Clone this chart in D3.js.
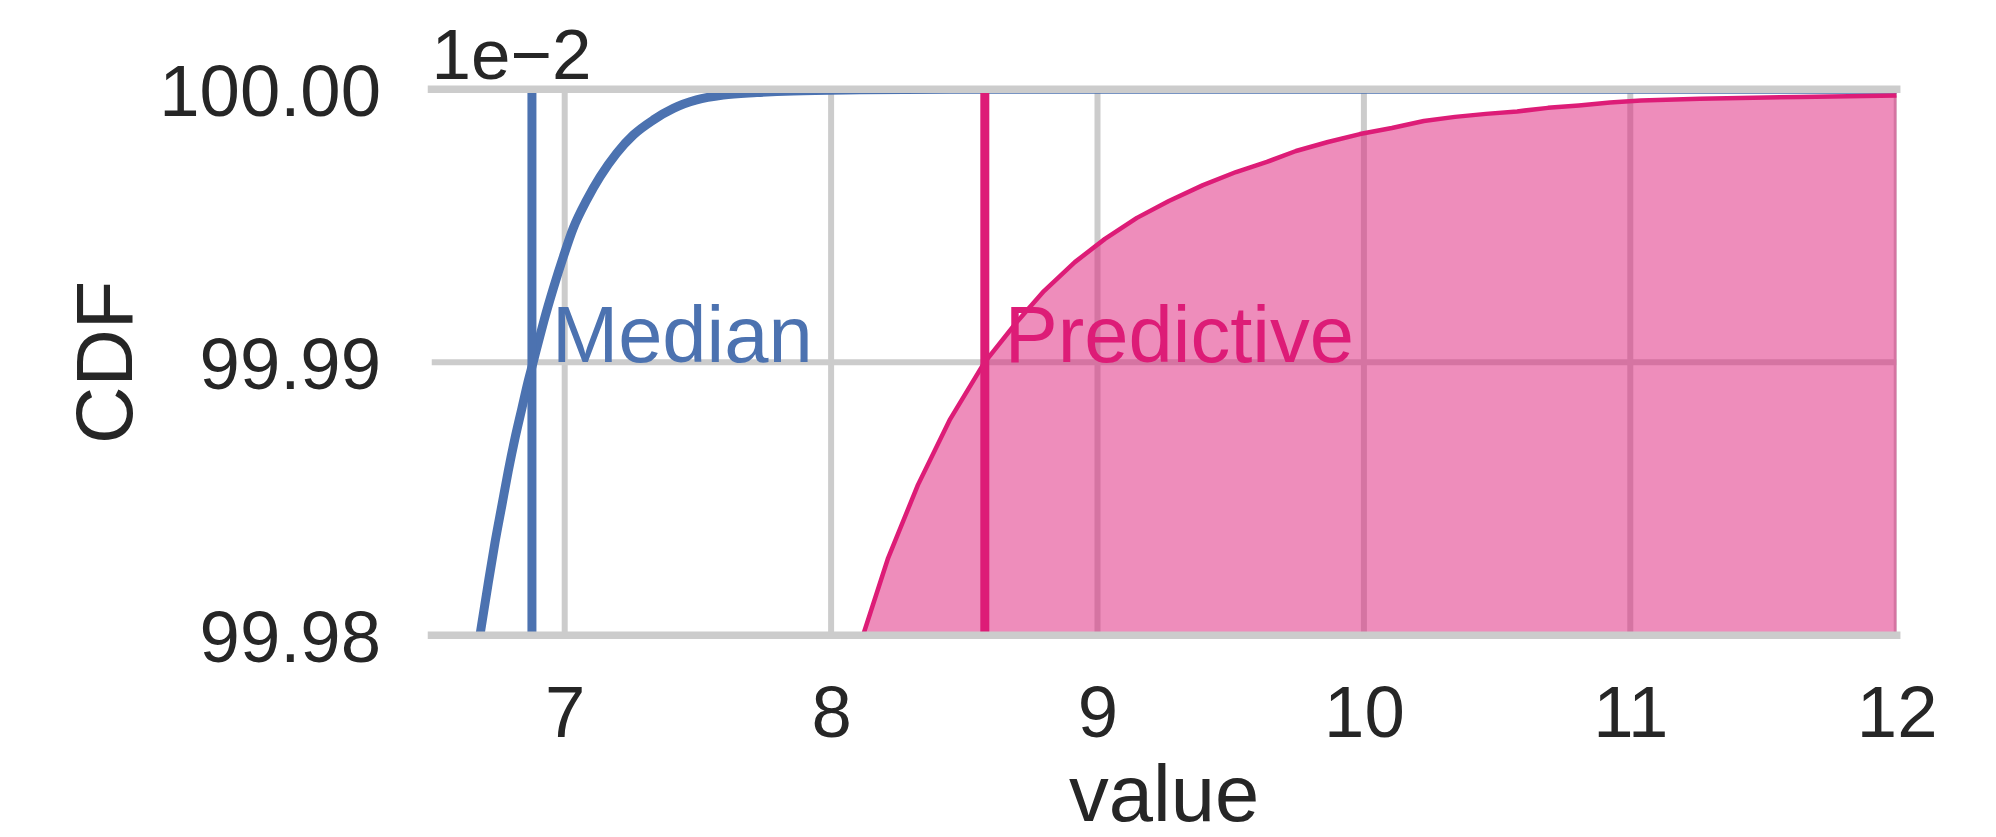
<!DOCTYPE html>
<html>
<head>
<meta charset="utf-8">
<script src="https://cdn.jsdelivr.net/npm/d3@7"></script>
<style>
  html, body { margin: 0; padding: 0; background: #ffffff; }
  svg { display: block; font-family: "Liberation Sans", Arial, Helvetica, sans-serif; }
</style>
</head>
<body>
<div id="chart"></div>
<script>
// Axis ticks and limits
const xTicks = [7, 8, 9, 10, 11, 12];
const yTicks = [0.9998, 0.9999, 1.0];
const xLimits = [6.5, 12];
const yLimits = [0.9998, 1.0];

// Reference markers (vertical lines with labels)
const markerNames = ["Median", "Predictive"];
const markerValues = [6.877, 8.577];

// CDF of the median-based model
const medianX = [6.661, 6.687, 6.713, 6.738, 6.764, 6.788, 6.813, 6.839, 6.863, 6.882,
                 6.901, 6.922, 6.957, 6.995, 7.032, 7.083, 7.133, 7.195, 7.258, 7.333,
                 7.408, 7.495, 7.595, 7.721, 7.858, 8.108, 8.446, 9.76, 12.0];
const medianCdf = [0.9997867, 0.9998032, 0.9998191, 0.9998338, 0.9998475, 0.9998601, 0.9998720,
                   0.9998830, 0.9998931, 0.9999002, 0.9999074, 0.9999152, 0.9999270, 0.9999387,
                   0.9999491, 0.9999595, 0.9999680, 0.9999766, 0.9999833, 0.9999888, 0.9999930,
                   0.9999961, 0.9999979, 0.9999988, 0.9999994, 0.9999998, 1.0, 1.0, 1.0];

// CDF of the predictive distribution
const predictiveX = [8.071, 8.120, 8.214, 8.326, 8.447, 8.574, 8.694, 8.799, 8.915, 9.028,
                     9.148, 9.268, 9.396, 9.520, 9.636, 9.745, 9.865, 9.985, 10.105, 10.225,
                     10.342, 10.458, 10.575, 10.691, 10.807, 10.924, 11.040, 11.262, 11.637, 12.0];
const predictiveCdf = [0.9997858, 0.9998000, 0.9998283, 0.9998551, 0.9998792, 0.9998997, 0.9999144,
                       0.9999261, 0.9999367, 0.9999452, 0.9999529, 0.9999591, 0.9999649, 0.9999697,
                       0.9999734, 0.9999774, 0.9999807, 0.9999836, 0.9999858, 0.9999884, 0.9999899,
                       0.9999910, 0.9999919, 0.9999932, 0.9999941, 0.9999952, 0.9999959, 0.9999965,
                       0.9999972, 0.9999977];

const W = 1996, H = 837;
const margin = { left: 431.5, right: 99.3, top: 89.3, bottom: 201.7 };
const plotW = W - margin.left - margin.right;
const plotH = H - margin.top - margin.bottom;

const textColor = "#262626";
const gridColor = "#cccccc";
const blue = "#4c72b0";
const pink = "#dd1c77";
const tickFont = 72.5;
const labelFont = 79.5;

const svg = d3.select("#chart").append("svg")
  .attr("width", W).attr("height", H)
  .attr("viewBox", `0 0 ${W} ${H}`);

const x = d3.scaleLinear().domain(xLimits).range([0, plotW]);
const y = d3.scaleLinear().domain(yLimits).range([plotH, 0]);

svg.append("defs").append("clipPath").attr("id", "plot-clip")
  .append("rect").attr("x", 0).attr("y", 0).attr("width", plotW).attr("height", plotH);

const g = svg.append("g").attr("transform", `translate(${margin.left},${margin.top})`);
const plot = g.append("g").attr("clip-path", "url(#plot-clip)");

// Grid lines
plot.append("g").selectAll("line").data(xTicks).join("line")
  .attr("x1", d => x(d)).attr("x2", d => x(d))
  .attr("y1", 0).attr("y2", plotH)
  .attr("stroke", gridColor).attr("stroke-width", 6);
plot.append("g").selectAll("line").data(yTicks).join("line")
  .attr("x1", 0).attr("x2", plotW)
  .attr("y1", d => y(d)).attr("y2", d => y(d))
  .attr("stroke", gridColor).attr("stroke-width", 6);

// Shaded area under the predictive CDF
const predPts = predictiveX.map((v, i) => [v, predictiveCdf[i]]);
const area = d3.area()
  .x(d => x(d[0]))
  .y0(plotH + 60)
  .y1(d => y(d[1]));
plot.append("path").datum(predPts)
  .attr("d", area)
  .attr("fill", pink).attr("fill-opacity", 0.5);

// Median CDF curve
const medPts = medianX.map((v, i) => [v, medianCdf[i]]);
plot.append("path").datum(medPts)
  .attr("d", d3.line().x(d => x(d[0])).y(d => y(d[1])).curve(d3.curveMonotoneX))
  .attr("fill", "none").attr("stroke", blue).attr("stroke-width", 9)
  .attr("stroke-linejoin", "round");

// Predictive CDF curve
plot.append("path").datum(predPts)
  .attr("d", d3.line().x(d => x(d[0])).y(d => y(d[1])))
  .attr("fill", "none").attr("stroke", pink).attr("stroke-width", 4.5)
  .attr("stroke-linejoin", "round");

// Vertical marker lines
const markerColors = [blue, pink];
plot.append("g").selectAll("line").data(markerValues).join("line")
  .attr("x1", d => x(d)).attr("x2", d => x(d))
  .attr("y1", y(yLimits[0])).attr("y2", y(yLimits[1]))
  .attr("stroke", (d, i) => markerColors[i]).attr("stroke-width", 9);

// Marker labels
g.append("g").selectAll("text").data(markerValues).join("text")
  .attr("x", d => x(d) + 20)
  .attr("y", y(yTicks[1]))
  .attr("fill", (d, i) => markerColors[i])
  .attr("font-size", labelFont)
  .text((d, i) => markerNames[i]);

// Top and bottom spines
g.append("g").selectAll("line").data(yLimits).join("line")
  .attr("x1", -3.75).attr("x2", plotW + 3.75)
  .attr("y1", d => y(d)).attr("y2", d => y(d))
  .attr("stroke", gridColor).attr("stroke-width", 7.5);

// X axis tick labels
const xAxis = g.append("g").attr("transform", `translate(0,${plotH})`)
  .call(d3.axisBottom(x).tickValues(xTicks).tickSize(0).tickFormat(d3.format("d")));
xAxis.select(".domain").remove();
xAxis.selectAll("text")
  .attr("y", 102).attr("dy", null)
  .attr("fill", textColor)
  .attr("font-size", tickFont)
  .attr("font-family", "Liberation Sans, Arial, sans-serif");

// Y axis tick labels (scaled by the 1e-2 offset)
const yAxis = g.append("g")
  .call(d3.axisLeft(y).tickValues(yTicks).tickSize(0).tickFormat(d => (d * 100).toFixed(2)));
yAxis.select(".domain").remove();
yAxis.selectAll("text")
  .attr("x", -50.5).attr("dy", "0.36em")
  .attr("fill", textColor)
  .attr("font-size", tickFont)
  .attr("font-family", "Liberation Sans, Arial, sans-serif");

// Offset text
g.append("text")
  .attr("x", 0).attr("y", -10)
  .attr("fill", textColor).attr("font-size", 71)
  .text("1e\u22122");

// Axis labels
svg.append("text")
  .attr("x", margin.left + plotW / 2).attr("y", 821)
  .attr("text-anchor", "middle")
  .attr("fill", textColor).attr("font-size", labelFont)
  .text("value");
svg.append("text")
  .attr("transform", `translate(131.5,${margin.top + plotH / 2}) rotate(-90)`)
  .attr("text-anchor", "middle")
  .attr("fill", textColor).attr("font-size", labelFont)
  .text("CDF");
</script>
</body>
</html>
